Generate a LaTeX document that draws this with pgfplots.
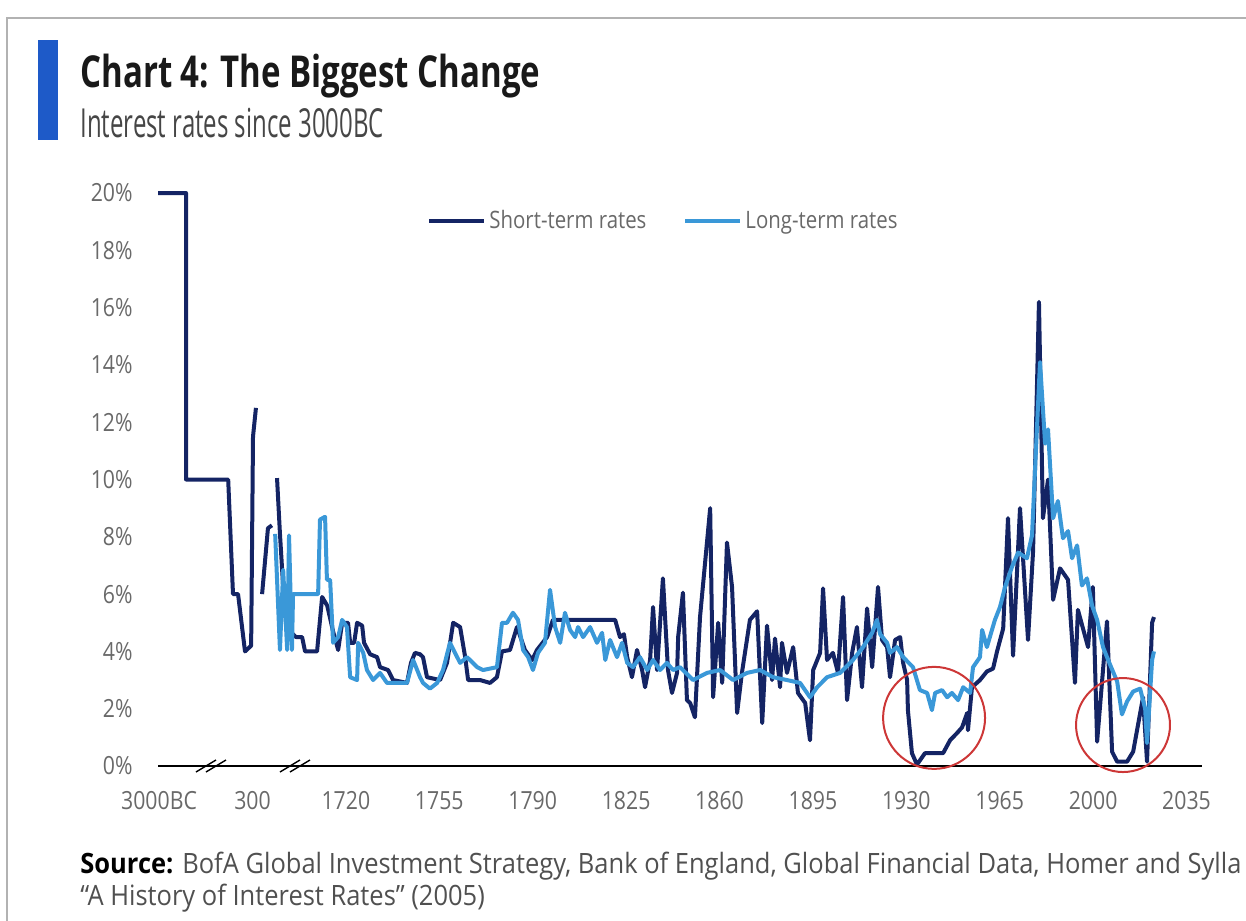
\documentclass[border=0pt]{standalone}
\usepackage{fontspec}
\setmainfont{Open Sans}[FakeStretch=0.85]
\newfontfamily\titlefont{Open Sans}[FakeStretch=0.75]
\newfontfamily\subfont{Open Sans}[FakeStretch=0.6]
\newfontfamily\srcfont{Open Sans}[FakeStretch=0.91, Ligatures=TeX]
\usepackage{pgfplots}
\pgfplotsset{compat=1.18}
\definecolor{navy}{RGB}{20,36,100}
\definecolor{lightb}{RGB}{58,152,216}
\definecolor{barblue}{RGB}{30,90,200}
\definecolor{titleblack}{RGB}{25,25,25}
\definecolor{subgray}{RGB}{70,70,70}
\definecolor{tickgray}{RGB}{105,105,105}
\definecolor{srcgray}{RGB}{80,80,80}
\definecolor{circred}{RGB}{205,55,55}
\begin{document}
\begin{tikzpicture}
\path[use as bounding box] (0pt,0pt) rectangle (623pt,-460pt);
\begin{scope}[x=0.5pt,y=-0.5pt]
\draw[gray!60, line width=1pt] (7,930) -- (7,18) -- (1260,18);
\fill[barblue] (38,40) rectangle (58,140);
\node[anchor=base west, inner sep=0pt, font=\titlefont\bfseries\fontsize{22}{26}\selectfont, text=titleblack] at (80,88) {Chart 4: The Biggest Change};
\node[anchor=base west, inner sep=0pt, font=\subfont\fontsize{20}{24}\selectfont, text=subgray] at (80,137) {Interest rates since 3000BC};
\node[anchor=base west, inner sep=0pt, font=\srcfont\fontsize{14}{17}\selectfont, text=srcgray] at (80,873) {\textcolor{black}{\bfseries Source:} BofA Global Investment Strategy, Bank of England, Global Financial Data, Homer and Sylla};
\node[anchor=base west, inner sep=0pt, font=\srcfont\fontsize{14}{17}\selectfont, text=srcgray] at (80,905) {``A History of Interest Rates'' (2005)};
\end{scope}
\begin{axis}[
  at={(79pt,-383pt)}, anchor=south west,
  scale only axis, width=522pt, height=286.5pt,
  xmin=1649.6, xmax=2040.8, ymin=0, ymax=20,
  clip=false,
  axis line style={draw=none},
  major tick length=0pt,
  xtick={1650,1685,1720,1755,1790,1825,1860,1895,1930,1965,2000,2035},
  xticklabels={3000BC,300,1720,1755,1790,1825,1860,1895,1930,1965,2000,2035},
  ytick={0,2,...,20},
  yticklabel={\pgfmathprintnumber{\tick}\%},
  /pgf/number format/assume math mode=true,
  tick label style={font=\fontsize{12.5}{14}\selectfont, text=tickgray},
  xticklabel style={anchor=base, inner sep=0pt, yshift=-21.75pt},
  yticklabel style={anchor=east, inner sep=0pt, xshift=-12.5pt},
  unbounded coords=jump,
  legend columns=2,
  legend cell align=left,
  legend style={draw=none, fill=none, inner sep=0pt, at={(0.2577,0.951)}, anchor=west,
    font=\fontsize{12}{14}\selectfont, nodes={inner sep=1.5pt, text=tickgray},
    /tikz/every even column/.append style={column sep=17pt}},
  legend image code/.code={\draw[#1] (0pt,0pt) -- (27.5pt,0pt);},
]
\draw[black, line width=0.8pt] (axis cs:1649.6,0) -- (axis cs:2040.8,0);
\addplot[navy, line width=2pt, line join=round] coordinates {
(1649.6,20) (1660.1,20) (1660.1,10) (1675.9,10) (1677.7,6.0) (1679.6,6.0) (1682.2,4.0) (1684.5,4.2) (1685.2,11.5) (1686.3,12.5)
(1686.4,nan)
(1688.6,6.0) (1690.8,8.3) (1692.3,8.4)
(1692.4,nan)
(1694.2,10.05) (1695.3,8.1) (1696.8,5.8) (1699.1,4.7) (1701.3,4.5) (1703.6,4.5) (1704.7,4.0) (1709.2,4.0) (1711.1,5.9) (1713.0,5.6)
(1715.2,4.7) (1717.1,4.05) (1718.6,5.0) (1720.8,5.0) (1721.6,4.3) (1723.1,4.3) (1724.2,5.0) (1726.1,4.9) (1726.8,4.3) (1729.1,3.9)
(1731.7,3.8) (1732.8,3.45) (1735.8,3.35) (1737.7,3.0) (1742.9,2.9) (1744.4,3.6) (1745.9,3.95) (1747.8,3.9) (1748.9,3.8) (1750.4,3.1)
(1755.3,3.0) (1757.9,3.6) (1760.2,5.0) (1762.8,4.85) (1764.7,3.8) (1765.8,3.0) (1770.3,3.0) (1774.0,2.9) (1776.6,3.1) (1778.5,4.0)
(1781.5,4.05) (1784.1,4.85) (1787.1,4.05) (1789.8,3.7) (1791.6,4.05) (1795.4,4.5) (1797.6,5.1) (1820.9,5.1) (1822.7,4.5) (1824.2,4.6)
(1825.4,3.8) (1827.2,3.1) (1829.1,4.05) (1831.0,3.35) (1832.1,2.75) (1834.0,3.7) (1835.1,5.55) (1836.6,3.35) (1838.8,6.55) (1840.7,3.35)
(1842.2,2.55) (1844.1,3.25) (1844.5,4.5) (1846.3,6.05) (1847.8,2.3) (1849.0,2.2) (1850.8,1.7) (1852.7,5.2) (1854.6,7.1) (1856.5,9.0)
(1857.6,2.4) (1859.5,5.0) (1861.0,2.9) (1862.8,7.8) (1864.7,6.25) (1866.6,1.85) (1868.4,3.25) (1871.4,5.1) (1874.1,5.4) (1876.0,1.5)
(1877.8,4.9) (1879.7,3.0) (1880.8,4.45) (1882.7,2.75) (1883.4,4.3) (1885.3,3.25) (1887.6,4.15) (1889.4,2.55) (1892.1,2.2) (1893.9,0.9)
(1895.1,3.35) (1897.7,3.95) (1898.8,6.2) (1900.3,3.7) (1902.5,3.95) (1904.4,3.25) (1906.3,5.9) (1907.8,2.3) (1909.7,3.95) (1911.5,4.85)
(1913.4,2.75) (1915.3,5.5) (1917.2,3.45) (1919.4,6.25) (1920.9,4.4) (1922.8,4.15) (1923.9,3.1) (1925.8,4.4) (1927.7,4.5) (1928.8,3.6)
(1930.3,3.0) (1930.6,1.95) (1932.1,0.45) (1934.0,0.05) (1937.0,0.45) (1943.8,0.45) (1946.4,0.9) (1949.0,1.15) (1950.9,1.35) (1952.8,1.85)
(1953.1,1.25) (1954.6,2.75) (1957.6,3.0) (1960.2,3.3) (1962.5,3.4) (1964.0,4.0) (1966.3,4.8) (1968.1,8.65) (1970.0,3.85) (1972.6,9.0)
(1975.6,4.4) (1977.5,7.5) (1979.7,16.2) (1981.2,8.65) (1983.1,10.0) (1985.0,5.8) (1987.6,6.9) (1990.6,6.5) (1993.2,2.9) (1994.3,5.45)
(1998.1,4.15) (1999.9,6.25) (2001.5,0.85) (2005.2,5.05) (2007.1,0.5) (2009.0,0.15) (2012.7,0.15) (2015.0,0.5) (2018.7,2.4) (2020.2,0.15)
(2022.1,5.0) (2022.8,5.2)
};
\addlegendentry{Short-term rates}
\addplot[lightb, line width=2pt, line join=round] coordinates {
(1693.5,8.1) (1695.3,4.05) (1696.5,6.85) (1698.0,4.05) (1698.7,8.05) (1699.8,4.05) (1700.2,6.0) (1709.6,6.0) (1710.3,8.6) (1712.2,8.7)
(1712.9,6.5) (1714.1,6.5) (1715.2,4.3) (1717.1,4.5) (1718.6,5.1) (1720.4,4.85) (1721.6,3.1) (1724.2,3.0) (1724.6,4.3) (1726.5,3.95)
(1727.9,3.35) (1730.2,3.0) (1732.8,3.25) (1735.4,2.9) (1742.9,2.9) (1745.2,3.7) (1747.8,3.1) (1748.9,2.9) (1751.5,2.7) (1754.2,2.9)
(1756.4,3.35) (1759.0,4.3) (1761.7,3.8) (1762.8,3.6) (1765.4,3.8) (1769.2,3.45) (1771.4,3.35) (1776.6,3.45) (1778.5,5.0) (1780.4,5.0)
(1782.6,5.35) (1784.5,5.1) (1786.4,4.05) (1788.3,3.8) (1790.1,3.35) (1792.0,3.95) (1794.6,4.3) (1796.5,6.15) (1798.4,4.85) (1800.3,4.3)
(1802.1,5.35) (1804.0,4.75) (1805.9,4.5) (1807.0,4.85) (1808.9,4.5) (1811.5,4.85) (1814.1,4.3) (1816.0,4.65) (1817.2,3.7) (1819.0,4.4)
(1821.6,3.8) (1823.5,4.3) (1825.4,3.6) (1827.6,3.45) (1830.2,3.8) (1832.9,3.35) (1835.1,3.7) (1837.7,3.35) (1840.3,3.6) (1842.6,3.35)
(1845.2,3.45) (1850.1,3.0) (1855.3,3.25) (1860.2,3.35) (1865.1,3.0) (1870.3,3.25) (1875.2,3.35) (1880.1,3.1) (1885.3,3.0) (1890.2,2.9)
(1893.9,2.4) (1896.6,2.75) (1900.3,3.1) (1905.2,3.25) (1910.0,3.7) (1913.8,4.15) (1917.2,4.65) (1919.0,5.1) (1920.2,4.6) (1922.8,4.3)
(1923.9,3.95) (1926.5,4.15) (1928.8,3.8) (1932.5,3.45) (1935.1,2.65) (1937.8,2.55) (1939.6,1.95) (1940.8,2.55) (1943.4,2.65) (1945.3,2.4)
(1947.1,2.55) (1949.4,2.3) (1951.3,2.75) (1953.9,2.55) (1955.0,3.45) (1957.6,3.8) (1958.4,4.75) (1960.2,4.15) (1963.2,5.1) (1965.1,5.55)
(1967.0,6.25) (1969.6,6.95) (1971.9,7.45) (1975.2,7.25) (1977.1,8.05) (1980.1,14.1) (1982.0,11.25) (1983.1,11.75) (1985.0,8.65) (1986.8,9.25)
(1988.7,7.95) (1990.6,8.2) (1992.1,7.25) (1994.0,7.7) (1995.8,6.3) (1997.7,6.55) (1999.6,5.6) (2001.5,5.1) (2003.7,4.15) (2006.3,3.55)
(2009.0,2.95) (2010.8,1.8) (2012.7,2.25) (2015.0,2.6) (2017.6,2.7) (2019.5,2.0) (2020.2,0.8) (2022.1,3.7) (2022.8,4.0)
};
\addlegendentry{Long-term rates}
\draw[circred, line width=1pt] (axis cs:1940.4,1.68) ellipse [x radius=19.1, y radius=1.78];
\draw[circred, line width=1pt] (axis cs:2011.2,1.43) ellipse [x radius=17.6, y radius=1.64];
\end{axis}
\begin{scope}[x=0.5pt,y=-0.5pt]
\draw[black, line width=0.7pt] (196,772) -- (216,760) (206,772) -- (226,760);
\draw[black, line width=0.7pt] (280,772) -- (300,760) (290,772) -- (310,760);
\end{scope}
\end{tikzpicture}
\end{document}
